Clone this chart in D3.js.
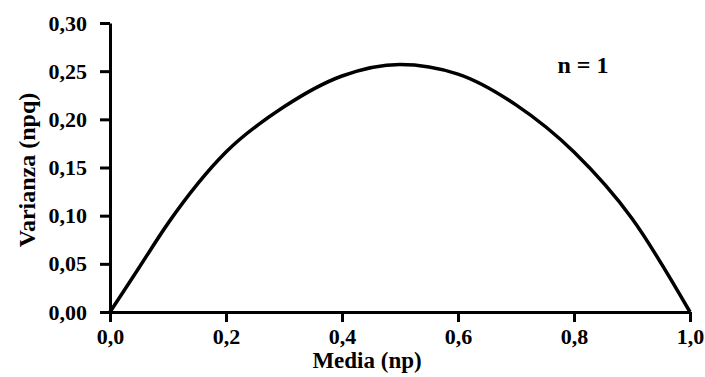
<!DOCTYPE html>
<html>
<head>
<meta charset="utf-8">
<script src="https://cdn.jsdelivr.net/npm/d3@7"></script>
<style>
  body { margin: 0; background: #fff; }
</style>
</head>
<body>
<svg id="svg" width="705" height="377"></svg>
<script>
// values (n = 1)
const media = [0, 0.05, 0.1, 0.2, 0.3, 0.4, 0.5, 0.6, 0.7, 0.8, 0.9, 1.0];
const varianza = [0, 0.046, 0.092, 0.166, 0.213, 0.245, 0.257, 0.247, 0.215, 0.166, 0.097, 0];
const xTicks = [0, 0.2, 0.4, 0.6, 0.8, 1.0];
const yTicks = [0, 0.05, 0.10, 0.15, 0.20, 0.25, 0.30];

const font = "'Liberation Serif', Tinos, 'Times New Roman', 'DejaVu Serif', serif";

const svg = d3.select("#svg");

const xScale = d3.scaleLinear().domain([0, 1]).range([110, 690]);
const yScale = d3.scaleLinear().domain([0, 0.3]).range([312, 23]);

const comma = d => d.toFixed(1).replace(".", ",");
const comma2 = d => d.toFixed(2).replace(".", ",");

// axes
const xAxis = svg.append("g")
    .attr("transform", "translate(0,312)")
    .call(d3.axisBottom(xScale).tickValues(xTicks).tickFormat(comma).tickSize(10).tickSizeOuter(0).tickPadding(6));
const yAxis = svg.append("g")
    .attr("transform", "translate(110,0)")
    .call(d3.axisLeft(yScale).tickValues(yTicks).tickFormat(comma2).tickSize(10).tickSizeOuter(0).tickPadding(13));

[xAxis, yAxis].forEach(g => {
    g.attr("font-family", font).attr("font-weight", "bold");
    g.select(".domain").attr("stroke", "#000").attr("stroke-width", 3);
    g.selectAll(".tick line").attr("stroke", "#000").attr("stroke-width", 3);
    g.selectAll(".tick text")
        .style("font-family", font)
        .style("font-weight", "bold")
        .style("font-size", "22px")
        .attr("fill", "#000");
});

// curve
const line = d3.line()
    .x((d, i) => xScale(media[i]))
    .y(d => yScale(d))
    .curve(d3.curveMonotoneX);

svg.append("path")
    .datum(varianza)
    .attr("fill", "none")
    .attr("stroke", "#000")
    .attr("stroke-width", 3.5)
    .attr("d", line);

// labels
function label(txt, size) {
    return svg.append("text")
        .attr("text-anchor", "middle")
        .style("font-family", font)
        .style("font-weight", "bold")
        .style("font-size", size + "px")
        .text(txt);
}

label("Media (np)", 23).attr("x", 367).attr("y", 368);
label("Varianza (npq)", 24).attr("transform", "translate(35,170) rotate(-90)");
label("n = 1", 24).attr("x", 583).attr("y", 73);
</script>
</body>
</html>
